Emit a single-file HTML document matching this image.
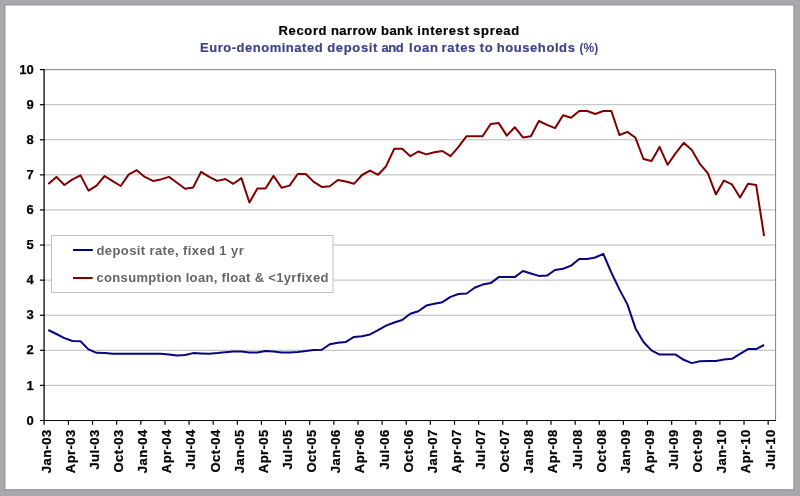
<!DOCTYPE html>
<html><head><meta charset="utf-8"><title>Record narrow bank interest spread</title>
<style>
html,body{margin:0;padding:0;background:#a9a8ac;}
body{width:800px;height:496px;overflow:hidden;}
svg{display:block;font-family:"Liberation Sans",sans-serif;font-weight:bold;}
</style></head><body>
<svg width="800" height="496" viewBox="0 0 800 496">
<rect x="0" y="0" width="800" height="496" fill="#a9a8ac"/>
<rect x="4" y="4" width="790.8" height="486.8" fill="#9b9b9f"/>
<rect x="5.5" y="5.5" width="787.8" height="483.6" fill="#ffffff"/>

<line x1="45" y1="385.37" x2="775" y2="385.37" stroke="#b8b8b8" stroke-width="1"/>
<line x1="45" y1="350.28" x2="775" y2="350.28" stroke="#b8b8b8" stroke-width="1"/>
<line x1="45" y1="315.20" x2="775" y2="315.20" stroke="#b8b8b8" stroke-width="1"/>
<line x1="45" y1="280.12" x2="775" y2="280.12" stroke="#b8b8b8" stroke-width="1"/>
<line x1="45" y1="245.03" x2="775" y2="245.03" stroke="#b8b8b8" stroke-width="1"/>
<line x1="45" y1="209.95" x2="775" y2="209.95" stroke="#b8b8b8" stroke-width="1"/>
<line x1="45" y1="174.87" x2="775" y2="174.87" stroke="#b8b8b8" stroke-width="1"/>
<line x1="45" y1="139.79" x2="775" y2="139.79" stroke="#b8b8b8" stroke-width="1"/>
<line x1="45" y1="104.70" x2="775" y2="104.70" stroke="#b8b8b8" stroke-width="1"/>
<path d="M45,69.65 H775.6 V420.4" fill="none" stroke="#808080" stroke-width="1"/>
<rect x="51.5" y="235.5" width="281.5" height="57" fill="#fff" stroke="#c0c0c0" stroke-width="1"/>
<polyline points="48.3,184.0 56.4,176.9 64.4,185.0 72.5,179.4 80.5,175.4 88.5,190.6 96.6,185.6 104.6,176.0 112.7,181.2 120.7,186.0 128.8,174.4 136.8,170.2 144.8,176.9 152.9,180.9 160.9,179.4 169.0,176.9 177.0,182.8 185.1,188.8 193.1,187.5 201.1,171.9 209.2,176.9 217.2,180.9 225.3,179.0 233.3,183.8 241.4,178.1 249.4,202.5 257.4,188.5 265.5,188.5 273.5,175.9 281.6,187.8 289.6,185.6 297.7,174.0 305.7,174.0 313.7,181.9 321.8,186.9 329.8,186.2 337.9,180.0 345.9,181.5 354.0,183.8 362.0,175.0 370.0,170.6 378.1,174.8 386.1,166.2 394.2,148.8 402.2,148.8 410.3,156.2 418.3,151.5 426.3,154.4 434.4,152.2 442.4,151.0 450.5,156.2 458.5,146.9 466.6,136.2 474.6,136.2 482.6,136.2 490.7,124.0 498.7,123.1 506.8,135.6 514.8,127.2 522.9,137.4 530.9,136.2 538.9,121.0 547.0,124.8 555.0,128.1 563.1,115.2 571.1,117.8 579.2,111.0 587.2,111.0 595.2,114.0 603.3,111.0 611.3,110.9 619.4,135.0 627.4,131.9 635.5,137.8 643.5,159.0 651.5,161.0 659.6,146.9 667.6,164.8 675.7,153.1 683.7,142.8 691.8,150.0 699.8,163.8 707.8,173.1 715.9,194.4 723.9,180.6 732.0,184.4 740.0,197.5 748.1,183.8 756.1,184.9 764.1,236.2" fill="none" stroke="#800000" stroke-width="2" stroke-linejoin="round"/>
<polyline points="48.3,330.0 56.4,334.0 64.4,338.1 72.5,341.0 80.5,341.2 88.5,349.4 96.6,352.8 104.6,353.1 112.7,353.8 120.7,353.8 128.8,353.8 136.8,353.8 144.8,353.8 152.9,353.8 160.9,353.8 169.0,354.4 177.0,355.6 185.1,355.0 193.1,353.1 201.1,353.4 209.2,353.8 217.2,353.1 225.3,352.2 233.3,351.6 241.4,351.6 249.4,352.5 257.4,352.5 265.5,351.0 273.5,351.6 281.6,352.5 289.6,352.5 297.7,352.1 305.7,351.0 313.7,350.0 321.8,349.8 329.8,344.2 337.9,342.8 345.9,341.9 354.0,336.9 362.0,336.2 370.0,334.4 378.1,330.2 386.1,325.6 394.2,322.5 402.2,320.0 410.3,313.8 418.3,311.2 426.3,305.6 434.4,303.8 442.4,302.2 450.5,296.9 458.5,294.0 466.6,293.5 474.6,287.8 482.6,284.6 490.7,283.1 498.7,277.1 506.8,277.1 514.8,277.1 522.9,271.0 530.9,273.5 538.9,275.9 547.0,275.6 555.0,270.0 563.1,268.8 571.1,265.6 579.2,259.0 587.2,259.0 595.2,257.5 603.3,253.8 611.3,272.5 619.4,289.4 627.4,304.4 635.5,328.4 643.5,342.0 651.5,350.4 659.6,354.6 667.6,354.6 675.7,354.6 683.7,359.8 691.8,363.1 699.8,361.2 707.8,361.0 715.9,361.0 723.9,359.4 732.0,358.8 740.0,353.8 748.1,349.1 756.1,349.1 764.1,345.0" fill="none" stroke="#06067f" stroke-width="2" stroke-linejoin="round"/>
<line x1="44.1" y1="69.2" x2="44.1" y2="424.8" stroke="#1a1a1a" stroke-width="1.4"/>
<line x1="39.9" y1="420.45" x2="776" y2="420.45" stroke="#0a0a0a" stroke-width="1.15"/>
<text x="33.8" y="425" font-size="13" text-anchor="end" fill="#000" stroke="#000" stroke-width="0.25">0</text>
<line x1="39.9" y1="385.37" x2="44.5" y2="385.37" stroke="#000" stroke-width="1.2"/>
<text x="33.8" y="390" font-size="13" text-anchor="end" fill="#000" stroke="#000" stroke-width="0.25">1</text>
<line x1="39.9" y1="350.28" x2="44.5" y2="350.28" stroke="#000" stroke-width="1.2"/>
<text x="33.8" y="354" font-size="13" text-anchor="end" fill="#000" stroke="#000" stroke-width="0.25">2</text>
<line x1="39.9" y1="315.20" x2="44.5" y2="315.20" stroke="#000" stroke-width="1.2"/>
<text x="33.8" y="319" font-size="13" text-anchor="end" fill="#000" stroke="#000" stroke-width="0.25">3</text>
<line x1="39.9" y1="280.12" x2="44.5" y2="280.12" stroke="#000" stroke-width="1.2"/>
<text x="33.8" y="284" font-size="13" text-anchor="end" fill="#000" stroke="#000" stroke-width="0.25">4</text>
<line x1="39.9" y1="245.03" x2="44.5" y2="245.03" stroke="#000" stroke-width="1.2"/>
<text x="33.8" y="249" font-size="13" text-anchor="end" fill="#000" stroke="#000" stroke-width="0.25">5</text>
<line x1="39.9" y1="209.95" x2="44.5" y2="209.95" stroke="#000" stroke-width="1.2"/>
<text x="33.8" y="214" font-size="13" text-anchor="end" fill="#000" stroke="#000" stroke-width="0.25">6</text>
<line x1="39.9" y1="174.87" x2="44.5" y2="174.87" stroke="#000" stroke-width="1.2"/>
<text x="33.8" y="179" font-size="13" text-anchor="end" fill="#000" stroke="#000" stroke-width="0.25">7</text>
<line x1="39.9" y1="139.79" x2="44.5" y2="139.79" stroke="#000" stroke-width="1.2"/>
<text x="33.8" y="144" font-size="13" text-anchor="end" fill="#000" stroke="#000" stroke-width="0.25">8</text>
<line x1="39.9" y1="104.70" x2="44.5" y2="104.70" stroke="#000" stroke-width="1.2"/>
<text x="33.8" y="109" font-size="13" text-anchor="end" fill="#000" stroke="#000" stroke-width="0.25">9</text>
<line x1="39.9" y1="69.62" x2="44.5" y2="69.62" stroke="#000" stroke-width="1.2"/>
<text x="33.8" y="74" font-size="13" text-anchor="end" fill="#000" stroke="#000" stroke-width="0.25">10</text>
<text transform="translate(51,429.3) rotate(-90)" font-size="13" letter-spacing="0.45" text-anchor="end" fill="#000" stroke="#000" stroke-width="0.25">Jan-03</text>
<line x1="68.43" y1="420" x2="68.43" y2="424.8" stroke="#000" stroke-width="1.2"/>
<text transform="translate(75,429.3) rotate(-90)" font-size="13" letter-spacing="0.45" text-anchor="end" fill="#000" stroke="#000" stroke-width="0.25">Apr-03</text>
<line x1="92.56" y1="420" x2="92.56" y2="424.8" stroke="#000" stroke-width="1.2"/>
<text transform="translate(99,429.3) rotate(-90)" font-size="13" letter-spacing="0.45" text-anchor="end" fill="#000" stroke="#000" stroke-width="0.25">Jul-03</text>
<line x1="116.69" y1="420" x2="116.69" y2="424.8" stroke="#000" stroke-width="1.2"/>
<text transform="translate(123,429.3) rotate(-90)" font-size="13" letter-spacing="0.45" text-anchor="end" fill="#000" stroke="#000" stroke-width="0.25">Oct-03</text>
<line x1="140.82" y1="420" x2="140.82" y2="424.8" stroke="#000" stroke-width="1.2"/>
<text transform="translate(147,429.3) rotate(-90)" font-size="13" letter-spacing="0.45" text-anchor="end" fill="#000" stroke="#000" stroke-width="0.25">Jan-04</text>
<line x1="164.94" y1="420" x2="164.94" y2="424.8" stroke="#000" stroke-width="1.2"/>
<text transform="translate(171,429.3) rotate(-90)" font-size="13" letter-spacing="0.45" text-anchor="end" fill="#000" stroke="#000" stroke-width="0.25">Apr-04</text>
<line x1="189.07" y1="420" x2="189.07" y2="424.8" stroke="#000" stroke-width="1.2"/>
<text transform="translate(195,429.3) rotate(-90)" font-size="13" letter-spacing="0.45" text-anchor="end" fill="#000" stroke="#000" stroke-width="0.25">Jul-04</text>
<line x1="213.20" y1="420" x2="213.20" y2="424.8" stroke="#000" stroke-width="1.2"/>
<text transform="translate(220,429.3) rotate(-90)" font-size="13" letter-spacing="0.45" text-anchor="end" fill="#000" stroke="#000" stroke-width="0.25">Oct-04</text>
<line x1="237.33" y1="420" x2="237.33" y2="424.8" stroke="#000" stroke-width="1.2"/>
<text transform="translate(244,429.3) rotate(-90)" font-size="13" letter-spacing="0.45" text-anchor="end" fill="#000" stroke="#000" stroke-width="0.25">Jan-05</text>
<line x1="261.46" y1="420" x2="261.46" y2="424.8" stroke="#000" stroke-width="1.2"/>
<text transform="translate(268,429.3) rotate(-90)" font-size="13" letter-spacing="0.45" text-anchor="end" fill="#000" stroke="#000" stroke-width="0.25">Apr-05</text>
<line x1="285.59" y1="420" x2="285.59" y2="424.8" stroke="#000" stroke-width="1.2"/>
<text transform="translate(292,429.3) rotate(-90)" font-size="13" letter-spacing="0.45" text-anchor="end" fill="#000" stroke="#000" stroke-width="0.25">Jul-05</text>
<line x1="309.72" y1="420" x2="309.72" y2="424.8" stroke="#000" stroke-width="1.2"/>
<text transform="translate(316,429.3) rotate(-90)" font-size="13" letter-spacing="0.45" text-anchor="end" fill="#000" stroke="#000" stroke-width="0.25">Oct-05</text>
<line x1="333.85" y1="420" x2="333.85" y2="424.8" stroke="#000" stroke-width="1.2"/>
<text transform="translate(340,429.3) rotate(-90)" font-size="13" letter-spacing="0.45" text-anchor="end" fill="#000" stroke="#000" stroke-width="0.25">Jan-06</text>
<line x1="357.98" y1="420" x2="357.98" y2="424.8" stroke="#000" stroke-width="1.2"/>
<text transform="translate(364,429.3) rotate(-90)" font-size="13" letter-spacing="0.45" text-anchor="end" fill="#000" stroke="#000" stroke-width="0.25">Apr-06</text>
<line x1="382.11" y1="420" x2="382.11" y2="424.8" stroke="#000" stroke-width="1.2"/>
<text transform="translate(389,429.3) rotate(-90)" font-size="13" letter-spacing="0.45" text-anchor="end" fill="#000" stroke="#000" stroke-width="0.25">Jul-06</text>
<line x1="406.23" y1="420" x2="406.23" y2="424.8" stroke="#000" stroke-width="1.2"/>
<text transform="translate(413,429.3) rotate(-90)" font-size="13" letter-spacing="0.45" text-anchor="end" fill="#000" stroke="#000" stroke-width="0.25">Oct-06</text>
<line x1="430.36" y1="420" x2="430.36" y2="424.8" stroke="#000" stroke-width="1.2"/>
<text transform="translate(437,429.3) rotate(-90)" font-size="13" letter-spacing="0.45" text-anchor="end" fill="#000" stroke="#000" stroke-width="0.25">Jan-07</text>
<line x1="454.49" y1="420" x2="454.49" y2="424.8" stroke="#000" stroke-width="1.2"/>
<text transform="translate(461,429.3) rotate(-90)" font-size="13" letter-spacing="0.45" text-anchor="end" fill="#000" stroke="#000" stroke-width="0.25">Apr-07</text>
<line x1="478.62" y1="420" x2="478.62" y2="424.8" stroke="#000" stroke-width="1.2"/>
<text transform="translate(485,429.3) rotate(-90)" font-size="13" letter-spacing="0.45" text-anchor="end" fill="#000" stroke="#000" stroke-width="0.25">Jul-07</text>
<line x1="502.75" y1="420" x2="502.75" y2="424.8" stroke="#000" stroke-width="1.2"/>
<text transform="translate(509,429.3) rotate(-90)" font-size="13" letter-spacing="0.45" text-anchor="end" fill="#000" stroke="#000" stroke-width="0.25">Oct-07</text>
<line x1="526.88" y1="420" x2="526.88" y2="424.8" stroke="#000" stroke-width="1.2"/>
<text transform="translate(533,429.3) rotate(-90)" font-size="13" letter-spacing="0.45" text-anchor="end" fill="#000" stroke="#000" stroke-width="0.25">Jan-08</text>
<line x1="551.01" y1="420" x2="551.01" y2="424.8" stroke="#000" stroke-width="1.2"/>
<text transform="translate(557,429.3) rotate(-90)" font-size="13" letter-spacing="0.45" text-anchor="end" fill="#000" stroke="#000" stroke-width="0.25">Apr-08</text>
<line x1="575.14" y1="420" x2="575.14" y2="424.8" stroke="#000" stroke-width="1.2"/>
<text transform="translate(582,429.3) rotate(-90)" font-size="13" letter-spacing="0.45" text-anchor="end" fill="#000" stroke="#000" stroke-width="0.25">Jul-08</text>
<line x1="599.27" y1="420" x2="599.27" y2="424.8" stroke="#000" stroke-width="1.2"/>
<text transform="translate(606,429.3) rotate(-90)" font-size="13" letter-spacing="0.45" text-anchor="end" fill="#000" stroke="#000" stroke-width="0.25">Oct-08</text>
<line x1="623.40" y1="420" x2="623.40" y2="424.8" stroke="#000" stroke-width="1.2"/>
<text transform="translate(630,429.3) rotate(-90)" font-size="13" letter-spacing="0.45" text-anchor="end" fill="#000" stroke="#000" stroke-width="0.25">Jan-09</text>
<line x1="647.52" y1="420" x2="647.52" y2="424.8" stroke="#000" stroke-width="1.2"/>
<text transform="translate(654,429.3) rotate(-90)" font-size="13" letter-spacing="0.45" text-anchor="end" fill="#000" stroke="#000" stroke-width="0.25">Apr-09</text>
<line x1="671.65" y1="420" x2="671.65" y2="424.8" stroke="#000" stroke-width="1.2"/>
<text transform="translate(678,429.3) rotate(-90)" font-size="13" letter-spacing="0.45" text-anchor="end" fill="#000" stroke="#000" stroke-width="0.25">Jul-09</text>
<line x1="695.78" y1="420" x2="695.78" y2="424.8" stroke="#000" stroke-width="1.2"/>
<text transform="translate(702,429.3) rotate(-90)" font-size="13" letter-spacing="0.45" text-anchor="end" fill="#000" stroke="#000" stroke-width="0.25">Oct-09</text>
<line x1="719.91" y1="420" x2="719.91" y2="424.8" stroke="#000" stroke-width="1.2"/>
<text transform="translate(726,429.3) rotate(-90)" font-size="13" letter-spacing="0.45" text-anchor="end" fill="#000" stroke="#000" stroke-width="0.25">Jan-10</text>
<line x1="744.04" y1="420" x2="744.04" y2="424.8" stroke="#000" stroke-width="1.2"/>
<text transform="translate(750,429.3) rotate(-90)" font-size="13" letter-spacing="0.45" text-anchor="end" fill="#000" stroke="#000" stroke-width="0.25">Apr-10</text>
<line x1="768.17" y1="420" x2="768.17" y2="424.8" stroke="#000" stroke-width="1.2"/>
<text transform="translate(775,429.3) rotate(-90)" font-size="13" letter-spacing="0.45" text-anchor="end" fill="#000" stroke="#000" stroke-width="0.25">Jul-10</text>
<text x="278.44" y="35" font-size="13" textLength="48.13" lengthAdjust="spacing" fill="#000" stroke="#000" stroke-width="0.2">Record</text>
<text x="330.96" y="35" font-size="13" textLength="45.38" lengthAdjust="spacing" fill="#000" stroke="#000" stroke-width="0.2">narrow</text>
<text x="381.10" y="35" font-size="13" textLength="31.61" lengthAdjust="spacing" fill="#000" stroke="#000" stroke-width="0.2">bank</text>
<text x="417.26" y="35" font-size="13" textLength="51.73" lengthAdjust="spacing" fill="#000" stroke="#000" stroke-width="0.2">interest</text>
<text x="473.05" y="35" font-size="13" textLength="46.22" lengthAdjust="spacing" fill="#000" stroke="#000" stroke-width="0.2">spread</text>
<text x="200.04" y="52" font-size="13" textLength="122.55" lengthAdjust="spacing" fill="#42428a" stroke="#42428a" stroke-width="0.2">Euro-denominated</text>
<text x="327.14" y="52" font-size="13" textLength="50.29" lengthAdjust="spacing" fill="#42428a" stroke="#42428a" stroke-width="0.2">deposit</text>
<text x="381.45" y="52" font-size="13" textLength="22.15" lengthAdjust="spacing" fill="#42428a" stroke="#42428a" stroke-width="0.2">and</text>
<text x="409.12" y="52" font-size="13" textLength="28.82" lengthAdjust="spacing" fill="#42428a" stroke="#42428a" stroke-width="0.2">loan</text>
<text x="441.61" y="52" font-size="13" textLength="33.64" lengthAdjust="spacing" fill="#42428a" stroke="#42428a" stroke-width="0.2">rates</text>
<text x="479.65" y="52" font-size="13" textLength="12.98" lengthAdjust="spacing" fill="#42428a" stroke="#42428a" stroke-width="0.2">to</text>
<text x="496.66" y="52" font-size="13" textLength="78.20" lengthAdjust="spacing" fill="#42428a" stroke="#42428a" stroke-width="0.2">households</text>
<text x="579.6" y="52" font-size="13" textLength="18.6" lengthAdjust="spacingAndGlyphs" fill="#42428a">(%)</text>
<line x1="73" y1="250" x2="92.8" y2="250" stroke="#000080" stroke-width="2"/>
<line x1="73" y1="278" x2="92.7" y2="278" stroke="#800000" stroke-width="2"/>
<text x="96.5" y="254.5" font-size="13" letter-spacing="0.4" fill="#666">deposit rate, fixed 1 yr</text>
<text x="96.5" y="282" font-size="13" letter-spacing="0.33" fill="#666">consumption loan, float &amp; &lt;1yrfixed</text>
</svg></body></html>
